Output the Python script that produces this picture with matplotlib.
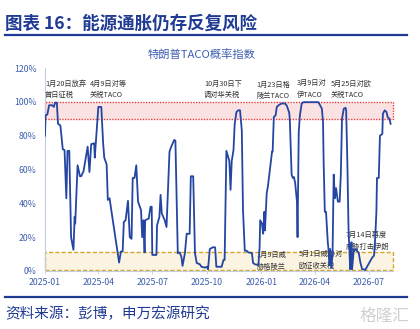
import numpy as np
import pandas as pd
import matplotlib
matplotlib.use("Agg")
import matplotlib.pyplot as plt
import matplotlib.dates as mdates

plt.rcParams['font.family'] = ['Noto Sans CJK SC', 'DejaVu Sans']

# TACO probability index (days since 2025-01-01, %)
start = pd.Timestamp("2025-01-01")
days = [0, 1, 4, 7, 12, 15, 17, 20, 22, 26, 30, 33, 36, 38, 41, 44, 48, 50, 51, 55,
        59, 61, 65, 72, 75, 78, 83, 84, 90, 95, 98, 100, 104, 106, 109, 111, 125, 128,
        131, 133, 136, 140, 143, 146, 148, 151, 154, 157, 162, 164, 166, 168, 169, 175,
        178, 180, 181, 188, 189, 193, 195, 197, 202, 205, 210, 213, 218, 220, 224, 227,
        230, 232, 236, 239, 244, 246, 250, 253, 256, 261, 264, 270, 273, 275, 278, 283,
        287, 289, 298, 301, 303, 306, 311, 313, 315, 318, 320, 323, 326, 329, 332, 334,
        337, 340, 343, 349, 351, 354, 360, 362, 363, 366, 368, 370, 371, 374, 376, 380,
        383, 384, 386, 389, 391, 394, 399, 405, 408, 412, 413, 416, 418, 420, 422, 425,
        426, 428, 430, 433, 436, 461, 464, 467, 469, 470, 472, 474, 477, 478, 480, 481,
        483, 485, 487, 489, 491, 494, 497, 499, 501, 504, 507, 508, 510, 512, 514, 515,
        517, 518, 521, 522, 525, 526, 529, 532, 535, 538, 540, 544, 547, 552, 555, 557,
        559, 560, 563, 565, 569, 570, 573, 576, 578, 581, 583]
taco = [80, 92, 92.5, 98, 98, 97, 99.5, 99.5, 87, 86, 72, 71.5, 43, 71, 71, 20, 12.5, 32, 28, 62.5,
        56, 56, 59, 73.5, 58.5, 75, 75.5, 67, 97, 97, 76, 67, 63, 42, 43, 38, 5, 11.5,
        11.5, 29, 30, 41.5, 20, 19, 55, 55, 62.5, 41, 36, 20, 30, 11, 30, 31,
        38, 38, 9.5, 9.5, 27, 32, 45, 34, 30, 26, 70.5, 73.5, 77.5, 77, 10.5, 11,
        8.5, 3, 10.5, 22, 22, 56, 56, 10.5, 4.7, 4, 2.5, 2, 2.5, 1, 13, 14,
        14, 2.5, 2.5, 6.5, 6.5, 71, 65, 48, 65, 71.6, 87, 94, 95, 95, 83, 36,
        12, 12, 11, 10.6, 4.7, 4, 3.5, 14, 30, 28, 22, 35, 24, 46, 50, 61.7,
        70.6, 70.6, 91, 92, 97, 98, 99, 99, 97.6, 93.5, 89, 57, 55, 55.5, 52, 41,
        20, 82, 92, 99, 99.8, 99.8, 98, 96, 88, 64.7, 35, 35, 17, 13.6, 3.5, 13,
        1.8, 9.5, 57, 43, 49, 41, 41, 57, 90, 96, 96.5, 95, 64.7, 25, 7.7, 1,
        17, 1, 13, 12, 13, 12, 11, 5, 1, 1, 0.5, 3, 5, 8, 9, 19.5,
        35, 55, 55, 80, 81, 93, 95, 94, 91, 90, 87]
dates = start + pd.to_timedelta(days, unit="D")

# event notes: (date, line 1, line 2, y of line 1, y of line 2)
notes_top = [
    ("2025-01-01", "1月20日放弃", "首日征税", 110.5, 104),
    ("2025-03-18", "4月9日对等", "关税TACO", 110.5, 104),
    ("2025-09-26", "10月30日下", "调对华关税", 110.5, 104),
    ("2025-12-23", "1月23日格", "陵兰TACO", 109.8, 103.2),
    ("2026-03-02", "3月9日对", "伊TACO", 111, 104.3),
    ("2026-04-28", "5月25日对欧", "关税TACO", 110.5, 104),
]
notes_bottom = [
    ("2025-12-24", "1月9日威", "胁格陵兰", 9.5, 2.6),
    ("2026-03-05", "5月1日威胁对", "欧征收关税", 10.3, 3.0),
    ("2026-05-23", "7月14日再度", "威胁打击伊朗", 21.3, 14.5),
]

navy = "#1f3a93"
tick_blue = "#3d5fae"
line_blue = "#2445a2"

fig = plt.figure(figsize=(4.2, 3.29), dpi=100)
ax = fig.add_axes([0.1071, 0.1763, 0.8286, 0.617])

# shaded bands
ax.axhspan(90, 100, facecolor="#fbe2e2", edgecolor="#e5403d", linestyle=(0, (1, 1)),
           linewidth=1.0, zorder=1, clip_on=False)
ax.axhspan(0.5, 11.5, facecolor="#fbf4e2", edgecolor="#d4a72c", linestyle=(0, (3, 1.5)),
           linewidth=1.0, zorder=1, clip_on=False)

ax.plot(dates, taco, color=line_blue, linewidth=1.3, zorder=4)

for d, l1, l2, y1, y2 in notes_top + notes_bottom:
    ax.text(pd.Timestamp(d), y1, l1, fontsize=5.2, color="#333333", ha="left", va="center", zorder=3)
    ax.text(pd.Timestamp(d), y2, l2, fontsize=5.2, color="#333333", ha="left", va="center", zorder=3)

ax.set_ylim(0, 120)
ax.set_xlim(pd.Timestamp("2025-01-01"), pd.Timestamp("2026-08-11"))
ax.set_yticks(np.arange(0, 121, 20))
ax.set_yticklabels([f"{v}%" for v in range(0, 121, 20)])
ax.xaxis.set_major_locator(mdates.MonthLocator(bymonth=[1, 4, 7, 10]))
ax.xaxis.set_major_formatter(mdates.DateFormatter("%Y-%m"))
ax.tick_params(axis="y", length=0, pad=6, labelsize=6.3, labelcolor=tick_blue)
ax.tick_params(axis="x", length=2, width=0.6, color="#c5cde0", pad=3, labelsize=6.3, labelcolor=tick_blue)

for s in ["top", "right"]:
    ax.spines[s].set_visible(False)
for s in ["left", "bottom"]:
    ax.spines[s].set_color("#c5cde0")
    ax.spines[s].set_linewidth(0.8)

# header, footer
fig.text(5 / 420, 1 - 24 / 329, "图表 16：能源通胀仍存反复风险", fontsize=12.6, fontweight="bold",
         color=navy, ha="left", va="center")
fig.add_artist(plt.Line2D([5 / 420, 407 / 420], [1 - 35 / 329, 1 - 35 / 329], color=navy, linewidth=1.6))
fig.text(201 / 420, 1 - 54 / 329, "特朗普TACO概率指数", fontsize=8.1, color=tick_blue, ha="center", va="center")
fig.add_artist(plt.Line2D([5 / 420, 407 / 420], [1 - 297 / 329, 1 - 297 / 329], color=navy, linewidth=1.6))
fig.text(5 / 420, 1 - 314 / 329, "资料来源：彭博，申万宏源研究", fontsize=10.5, color=navy, ha="left", va="center")
fig.text(409 / 420, 1 - 316 / 329, "格隆汇", fontsize=12, color="#d0d0d0", ha="right", va="center")

fig.savefig("out.png", dpi=100)
